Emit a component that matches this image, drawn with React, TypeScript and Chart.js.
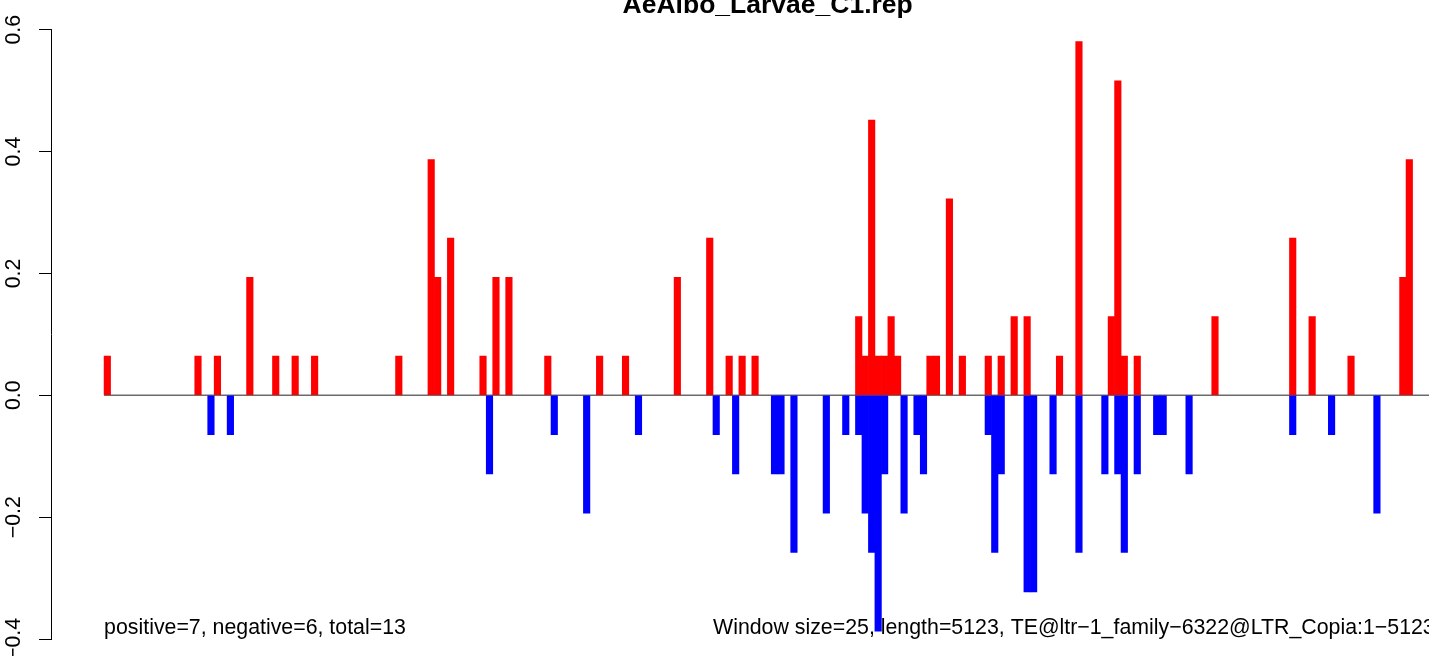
import React, { useEffect, useRef } from "react";
import { Chart, registerables } from "chart.js";

Chart.register(...registerables);

// ---- data ----
const chartTitle = "AeAlbo_Larvae_C1.rep";
const seqStart = 1;
const seqLength = 5123;
const windowSize = 25;

// window index (0-based) of each positive-strand bar, and its value
const posWindows = [
  0, 14, 17, 22, 26, 29, 32,
  45, 50, 51, 53, 58, 60, 62,
  68, 76, 80, 88, 93, 96, 98, 100,
  116, 117, 118, 119, 120, 121, 122,
  127, 128, 130, 132, 136, 138, 140, 142,
  147, 150, 155, 156, 157, 159,
  171, 183, 186, 192, 200, 201,
];
const posValues = [
  0.0645, 0.0645, 0.0645, 0.1935, 0.0645, 0.0645, 0.0645,
  0.0645, 0.387, 0.1935, 0.258, 0.0645, 0.1935, 0.1935,
  0.0645, 0.0645, 0.0645, 0.1935, 0.258, 0.0645, 0.0645, 0.0645,
  0.129, 0.0645, 0.4516, 0.0645, 0.0645, 0.129, 0.0645,
  0.0645, 0.0645, 0.3226, 0.0645, 0.0645, 0.0645, 0.129, 0.129,
  0.0645, 0.5806, 0.129, 0.516, 0.0645, 0.0645,
  0.129, 0.258, 0.129, 0.0645, 0.1935, 0.387,
];

// window index of each negative-strand bar, and its value
const negWindows = [
  16, 19, 59, 69, 74, 82,
  94, 97, 103, 104, 106, 111, 114,
  116, 117, 118, 119, 120,
  123, 125, 126,
  136, 137, 138,
  142, 143, 146, 150,
  154, 156, 157, 159,
  162, 163, 167,
  183, 189, 196,
];
const negValues = [
  -0.0645, -0.0645, -0.129, -0.0645, -0.1935, -0.0645,
  -0.0645, -0.129, -0.129, -0.129, -0.258, -0.1935, -0.0645,
  -0.0645, -0.1935, -0.258, -0.387, -0.129,
  -0.1935, -0.0645, -0.129,
  -0.0645, -0.258, -0.129,
  -0.3226, -0.3226, -0.129, -0.258,
  -0.129, -0.129, -0.258, -0.129,
  -0.0645, -0.0645, -0.129,
  -0.0645, -0.0645, -0.1935,
];

const yMin = -0.4;
const yMax = 0.6;
const yStep = 0.2;

const statText = "positive=7, negative=6, total=13";
const infoText =
  "Window size=25, length=5123, TE@ltr\u22121_family\u22126322@LTR_Copia:1\u22125123";

// ---- styling ----
const FONT = "'Liberation Sans', Arial, Helvetica, sans-serif";
const CANVAS_W = 1500;
const CANVAS_H = 656;
const AREA_RIGHT = 1484.3;
const AREA_TOP = 29.7;
const AREA_BOTTOM = 639;
const AXIS_X = 51;

const annotationPlugin = {
  id: "rAnnotations",
  afterDraw(chart: any) {
    const { ctx, chartArea, scales } = chart;
    ctx.save();
    ctx.fillStyle = "#000000";
    ctx.textBaseline = "alphabetic";
    ctx.font = `bold 26.5px ${FONT}`;
    ctx.textAlign = "center";
    ctx.fillText(chartTitle, (chartArea.left + chartArea.right) / 2, 13);
    ctx.font = `21.33px ${FONT}`;
    ctx.textAlign = "left";
    ctx.fillText(statText, scales.x.getPixelForValue(seqStart), 634);
    ctx.textAlign = "right";
    ctx.fillText(infoText, scales.x.getPixelForValue(seqLength) + 3.5, 634);
    ctx.restore();
  },
};

export default function App() {
  const canvasRef = useRef<HTMLCanvasElement | null>(null);

  useEffect(() => {
    const canvas = canvasRef.current;
    if (!canvas) return;
    Chart.defaults.font.family = FONT;
    const center = (w: number) => seqStart + w * windowSize + windowSize / 2;
    const span = seqLength - seqStart;

    const chart = new Chart(canvas, {
      type: "bar",
      data: {
        datasets: [
          {
            type: "line",
            label: "zero",
            data: [
              { x: seqStart, y: 0 },
              { x: seqLength, y: 0 },
            ],
            borderColor: "#6b6b6b",
            borderWidth: 1.4,
            pointRadius: 0,
            order: 3,
          } as any,
          {
            type: "bar",
            label: "positive",
            data: posWindows.map((w, i) => ({ x: center(w), y: posValues[i] })),
            backgroundColor: "#ff0000",
            borderWidth: 0,
            grouped: false,
            categoryPercentage: 1,
            barPercentage: 1,
            order: 1,
          } as any,
          {
            type: "bar",
            label: "negative",
            data: negWindows.map((w, i) => ({ x: center(w), y: negValues[i] })),
            backgroundColor: "#0000ff",
            borderWidth: 0,
            grouped: false,
            categoryPercentage: 1,
            barPercentage: 1,
            order: 2,
          } as any,
        ],
      },
      options: {
        animation: false,
        responsive: false,
        devicePixelRatio: 1,
        events: [],
        layout: {
          padding: {
            left: 0,
            top: AREA_TOP,
            right: CANVAS_W - AREA_RIGHT,
            bottom: CANVAS_H - AREA_BOTTOM,
          },
        },
        plugins: {
          legend: { display: false },
          tooltip: { enabled: false },
          title: { display: false },
        },
        scales: {
          x: {
            type: "linear",
            display: false,
            offset: false,
            min: seqStart - 0.04 * span,
            max: seqLength + 0.04 * span,
          },
          y: {
            type: "linear",
            min: yMin,
            max: yMax,
            ticks: {
              stepSize: yStep,
              minRotation: 90,
              maxRotation: 90,
              crossAlign: "center",
              padding: 4,
              color: "#000000",
              font: { family: FONT, size: 21.33 },
              callback: (v: any) => Number(v).toFixed(1).replace("-", "\u2212"),
            },
            grid: {
              drawOnChartArea: false,
              drawTicks: true,
              tickLength: 12,
              color: "#000000",
              lineWidth: 1,
            },
            border: { display: true, color: "#000000", width: 1 },
            afterFit: (s: any) => {
              s.width = AXIS_X;
              s.paddingTop = 0;
              s.paddingBottom = 0;
            },
          },
        },
      } as any,
      plugins: [annotationPlugin],
    });

    return () => chart.destroy();
  }, []);

  return (
    <div
      style={{
        position: "fixed",
        left: 0,
        top: 0,
        width: 1429,
        height: 656,
        overflow: "hidden",
        background: "#ffffff",
      }}
    >
      <canvas
        ref={canvasRef}
        width={CANVAS_W}
        height={CANVAS_H}
        style={{ display: "block", width: CANVAS_W, height: CANVAS_H }}
      />
    </div>
  );
}
